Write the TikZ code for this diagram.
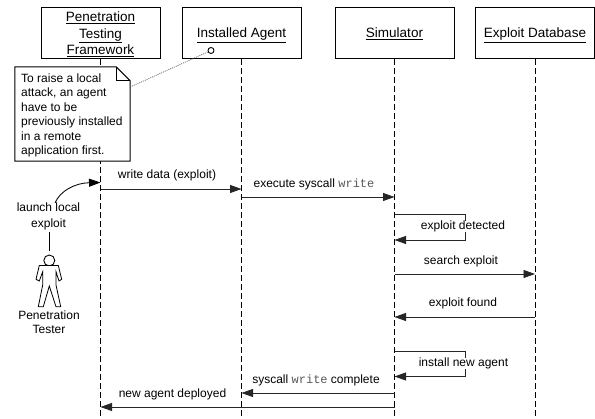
\documentclass[tikz,border=0pt]{standalone}
\usepackage{fontspec}
\setmainfont{Liberation Sans}
\setmonofont{Liberation Mono}
\usetikzlibrary{arrows.meta,calc}
\tikzset{
  x=1pt,y=-1pt,
  every node/.style={font=\fontsize{12}{14.4}\selectfont,inner sep=0pt},
  objbox/.style={draw=black,line width=1pt,fill=white,minimum width=119pt,minimum height=51pt,align=center,font=\fontsize{13.5}{16.6}\selectfont},
  singlebox/.style={objbox,text height=11pt,text depth=2pt},
  lifeline/.style={draw=black,line width=0.8pt,dash pattern=on 6pt off 3pt},
  msg/.style={draw=black!85,line width=0.85pt,-{Triangle[length=11.5pt,width=8pt]}},
  selfmsg/.style={msg},
  lbl/.style={align=center},
  masklbl/.style={lbl,fill=white,text height=8.5pt,text depth=2.5pt},
  notebox/.style={draw=black,line width=1pt,fill=white,line join=miter},
  actorline/.style={draw=black,line width=0.8pt,line join=miter,fill=white}
}
\newcommand{\wcode}{{\ttfamily\color{black!65}write}}
\begin{document}
\begin{tikzpicture}
\useasboundingbox (0,0) rectangle (595,419);
\fill[white] (0,0) rectangle (595,419);
% objects
\node[objbox] (ptf) at (100.5,33.5) {\rule{0pt}{11.7pt}\underline{Penetration}\\\underline{Testing}\\\underline{Framework}};
\node[singlebox] (agent) at (241.5,33.5) {\underline{Installed Agent}};
\node[singlebox] (sim) at (394.5,33.5) {\underline{Simulator}};
\node[singlebox] (db) at (535,33.5) {\underline{Exploit Database}};
% lifeline ends
\coordinate (ptfend) at (ptf |- 0,419);
\coordinate (agentend) at (agent |- 0,419);
\coordinate (simend) at (sim |- 0,419);
\coordinate (dbend) at (db |- 0,419);
\draw[lifeline] (ptf.south) -- (ptfend);
\draw[lifeline] (agent.south) -- (agentend);
\draw[lifeline] (sim.south) -- (simend);
\draw[lifeline] (db.south) -- (dbend);
% note
\node[minimum width=115pt,minimum height=94pt] (note) at (72.5,114) {};
\draw[notebox] (note.north west) -- ($(note.north east)+(-14,0)$) -- ($(note.north east)+(0,14)$) -- (note.south east) -- (note.south west) -- cycle;
\draw[notebox,fill=none,line width=0.8pt] ($(note.north east)+(-14,0)$) -- ($(note.north east)+(-14,14)$) -- ($(note.north east)+(0,14)$);
\node[align=left,anchor=west] (notetext) at (21,115.5) {To raise a local\\attack, an agent\\have to be\\previously installed\\in a remote\\application first.};
\node[circle,draw=black,line width=0.9pt,fill=white,minimum size=6pt] (anchorpt) at (211,50.5) {};
\coordinate (noteattach) at (note.east |- 0,87);
\draw[black!70,line width=0.6pt,dash pattern=on 1pt off 1pt] (noteattach) -- (anchorpt);
% messages
\draw[msg] (ptf |- 0,189) -- (agent |- 0,189);
\node[lbl] (m1) at (167,175.5) {write data (exploit)};
\draw[msg] (agent |- 0,197) -- (sim |- 0,197);
\node[lbl] (m2) at (314,184.5) {execute syscall \wcode};
\draw[selfmsg] (sim |- 0,214.5) -- (465,214.5) -- (465,240) -- (sim |- 0,240);
\node[masklbl] (m3) at (463,227) {exploit detected};
\draw[msg] (sim |- 0,274) -- (db |- 0,274);
\node[lbl] (m4) at (461,261) {search exploit};
\draw[msg] (db |- 0,317) -- (sim |- 0,317);
\node[lbl] (m5) at (463,303) {exploit found};
\draw[selfmsg] (sim |- 0,351) -- (465,351) -- (465,376.5) -- (sim |- 0,376.5);
\node[masklbl] (m6) at (463.5,364) {install new agent};
\draw[msg] (sim |- 0,393) -- (agent |- 0,393);
\node[lbl] (m7) at (316,380) {syscall \wcode{} complete};
\draw[msg] (sim |- 0,407) -- (ptf |- 0,407);
\node[lbl] (m8) at (172.5,394) {new agent deployed};
% actor
\coordinate (callin) at (ptf |- 0,182.5);
\draw[draw=black,line width=0.85pt,-{Triangle[length=11.5pt,width=8pt]}] (55,203) .. controls (60,191) and (75,183) .. (callin);
\node[lbl,anchor=south] (launch) at (48.5,230) {launch local\\[1.6pt]exploit};
\node[circle,draw=black,line width=0.9pt,fill=white,minimum size=11pt] (head) at (49.3,260.5) {};
\draw[black,line width=0.9pt] ($(launch.south -| head)+(0,2)$) -- ($(head.north)+(0,-4)$);
\draw[actorline] (39.3,265.5) -- (58.3,265.5) -- (61.7,279.3) -- (59,281) -- (56,271.7) -- (56,285) -- (60.7,306.7) -- (56,306.7) -- (49.3,286) -- (43.3,306.7) -- (38.3,306.7) -- (42.7,285) -- (42.7,271.7) -- (39.3,281) -- (36,279.3) -- cycle;
\node[lbl] (tester) at (49,322) {Penetration\\Tester};
\end{tikzpicture}
\end{document}
